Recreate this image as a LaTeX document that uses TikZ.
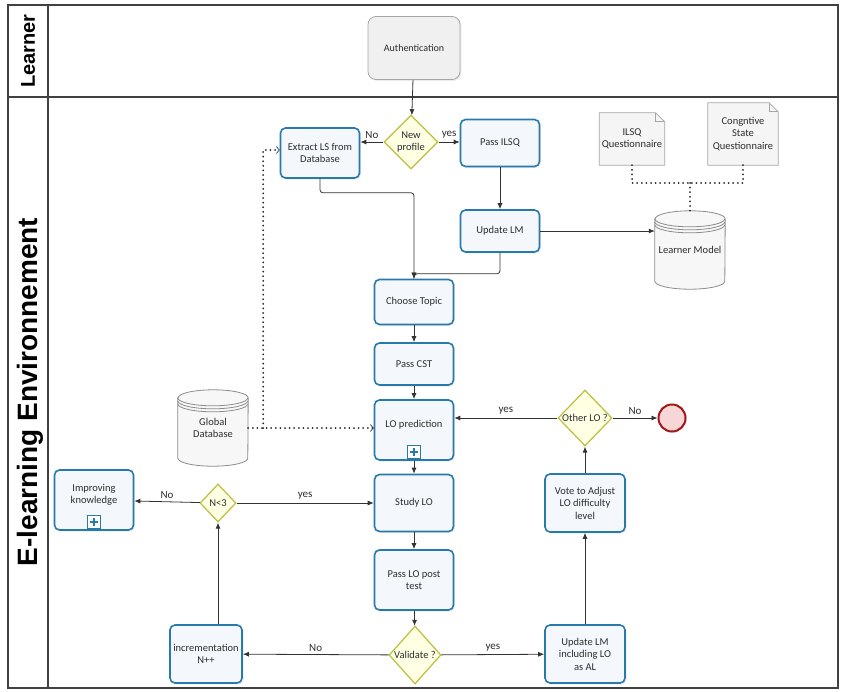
\documentclass[tikz,border=0pt]{standalone}
\usepackage{fontspec}
\setmainfont{Carlito}
\newfontfamily\lanefont{Liberation Sans}
\usetikzlibrary{shapes.geometric, arrows.meta, positioning, backgrounds, shadows}

\definecolor{taskblue}{RGB}{40,122,172}
\definecolor{taskfill}{RGB}{244,248,252}
\definecolor{gateline}{RGB}{190,190,60}
\definecolor{gatefill}{RGB}{255,255,228}
\definecolor{endline}{RGB}{160,24,24}
\definecolor{endfill}{RGB}{246,214,214}
\definecolor{txt}{RGB}{45,45,45}
\definecolor{storegray}{RGB}{140,140,140}

\begin{document}
\begin{tikzpicture}[x=1pt, y=1pt,
    task/.style     = {draw=taskblue, fill=taskfill, line width=1.6pt, rounded corners=5pt, minimum width=79pt, align=center, font=\fontsize{10.5}{12.5}\selectfont, text=txt, drop shadow={shadow xshift=1.5pt, shadow yshift=-1.5pt, opacity=0.15}},
    gate/.style     = {diamond, draw=gateline, fill=gatefill, line width=1.2pt, inner sep=0pt, align=center, font=\fontsize{10.5}{11.5}\selectfont, text=txt},
    store/.style    = {minimum width=70pt, inner sep=1pt, align=center, font=\fontsize{10.5}{12.5}\selectfont, text=txt},
    storeline/.style= {draw=storegray, fill=gray!6, line width=0.8pt},
    doc/.style      = {inner sep=1pt, align=center, font=\fontsize{10.5}{12.5}\selectfont, text=txt},
    docline/.style  = {draw=gray!70, fill=gray!8, line width=0.8pt},
    endev/.style    = {circle, draw=endline, fill=endfill, line width=2pt, minimum size=27pt},
    plusmark/.style = {draw=taskblue, fill=white, line width=1.2pt, minimum size=13pt, inner sep=0pt,
                       path picture={\draw[taskblue, line width=2pt] ([xshift=-4pt]path picture bounding box.center) -- ([xshift=4pt]path picture bounding box.center) ([yshift=-4pt]path picture bounding box.center) -- ([yshift=4pt]path picture bounding box.center);}},
    lbl/.style      = {font=\fontsize{11}{12}\selectfont, text=txt, inner sep=3pt},
    lanelbl/.style  = {font=\lanefont\bfseries, rotate=90},
    frame/.style    = {draw=black!75, line width=1.2pt},
    arr/.style      = {-{Latex[length=6pt, width=5pt]}, line width=0.8pt, draw=black!80, rounded corners=3pt},
    dots/.style     = {line width=2pt, dash pattern=on 0pt off 4.6pt, line cap=round, -{Straight Barb[length=3pt, width=7pt, line width=0.6pt]}, draw=black!85},
    >=Latex
]
\useasboundingbox (0,0) rectangle (850,-691);

% ---- Pool and lanes ----
\draw[frame] (8,-5) rectangle (838,-688);
\draw[frame] (48,-5) -- (48,-688);
\draw[frame] (8,-97) -- (838,-97);
\node[lanelbl, font=\lanefont\bfseries\fontsize{20}{22}\selectfont] (lnlearner) at (28,-51) {Learner};
\node[lanelbl, font=\lanefont\bfseries\fontsize{28}{32}\selectfont] (lnenv) at (30,-392) {E-learning Environnement};

% ---- Learner lane ----
\node[draw=gray!70, fill=gray!12, line width=0.8pt, rounded corners=8pt, minimum width=92pt, minimum height=63pt, font=\fontsize{10}{12}\selectfont, text=txt, drop shadow={shadow xshift=1.5pt, shadow yshift=-1.5pt, opacity=0.15}] (auth) at (414,-48) {Authentication};

% ---- Profile part ----
\node[gate, minimum width=54pt, minimum height=54pt] (newp) at (411,-142) {New\\profile};
\node[task, minimum height=50pt] (extract) at (320,-153) {Extract LS from\\Database};
\node[task, minimum height=47pt] (pilsq)   at (500,-143) {Pass ILSQ};
\node[task, minimum height=42pt] (uplm)    at (500,-231) {Update LM};
\node[store, minimum height=78pt] (lmodel) at (690,-250) {Learner Model};
\node[doc, minimum width=65pt, minimum height=52pt] (ilsq) at (632,-139) {ILSQ\\Questionnaire};
\node[doc, minimum width=70pt, minimum height=62pt] (cstq) at (743,-134) {Congntive\\State\\Questionnaire};
\coordinate (docjoin) at (690,-183);

% ---- Main column ----
\node[task, minimum height=45pt] (topic)  at (414,-302) {Choose Topic};
\node[task, minimum height=42pt] (pcst)   at (414,-364) {Pass CST};
\node[task, minimum height=60pt] (lopred) at (414,-430) {LO prediction\\\mbox{}};
\node[task, minimum height=57pt] (study)  at (414,-503) {Study LO};
\node[task, minimum height=60pt] (ptest)  at (414,-580) {Pass LO post\\test};
\node[gate, minimum width=52pt, minimum height=58pt] (valid) at (415,-655) {Validate ?};
\node[store, minimum height=76pt] (gdb) at (213,-428) {Global\\Database};
\coordinate (dbturn) at ([xshift=15pt]gdb.east);

% ---- Left loop ----
\node[task, minimum width=58pt, minimum height=58pt] (incr) at (206,-654) {incrementation\\N++};
\node[gate, minimum width=36pt, minimum height=38pt] (ncheck) at (218,-503) {N<3};
\node[task, minimum height=60pt] (impr) at (94,-500) {Improving\\knowledge\\\mbox{}};

% ---- Right loop ----
\node[task, minimum width=80pt, minimum height=58pt] (uplmal) at (585,-654) {Update LM\\including LO\\as AL};
\node[task, minimum width=80pt, minimum height=58pt] (vote)   at (585,-503) {Vote to Adjust\\LO difficulty\\level};
\node[gate, minimum width=54pt, minimum height=56pt] (other) at (585,-418) {Other LO ?};
\node[endev, drop shadow={shadow xshift=1.5pt, shadow yshift=-1.5pt, opacity=0.15}] (fin) at (672,-418) {};

% ---- Sub-process markers ----
\node[plusmark, anchor=south] (lopplus) at ([yshift=2pt]lopred.south) {};
\node[plusmark, anchor=south] (impplus) at ([yshift=2pt]impr.south) {};

% ---- Data stores and documents ----
\begin{scope}[on background layer]
\foreach \n in {lmodel,gdb} {
  \draw[storeline] ([yshift=-8pt]\n.north west) -- ([yshift=8pt]\n.south west)
      arc[start angle=180, end angle=360, x radius=35pt, y radius=8pt]
      -- ([yshift=-8pt]\n.north east)
      arc[start angle=0, end angle=180, x radius=35pt, y radius=8pt] -- cycle;
  \foreach \k in {8,11,14}
    \draw[storeline, fill=none] ([yshift=-\k pt]\n.north west) arc[start angle=180, end angle=360, x radius=35pt, y radius=8pt];
}
\foreach \n in {ilsq,cstq} {
  \draw[docline] (\n.south west) -- (\n.north west) -- ([xshift=-9pt]\n.north east) -- ([yshift=-9pt]\n.north east) -- (\n.south east) -- cycle;
  \draw[docline, fill=none] ([xshift=-9pt]\n.north east) |- ([yshift=-9pt]\n.north east);
}
\end{scope}

% ---- Flow ----
\draw[arr] (auth) -- (newp);
\draw[arr] (newp.west) -- node[lbl, above] {No} (newp.west -| extract.east);
\draw[arr] (newp.east) -- node[lbl, above] {yes} (newp.east -| pilsq.west);
\draw[arr] (pilsq) -- (uplm);
\draw[arr] (uplm) -- (uplm -| lmodel.west);
\draw[arr] (extract.south) -- ++(0,-14) -| (topic.north);
\draw[arr] (uplm.south) -- ++(0,-21) -| (topic.north);
\draw[arr] (topic) -- (pcst);
\draw[arr] (pcst) -- (lopred);
\draw[arr] (lopred) -- (study);
\draw[arr] (study) -- (ptest);
\draw[arr] (ptest) -- (valid);
\draw[arr] (valid) -- node[lbl, above] {No} (incr);
\draw[arr] (valid) -- node[lbl, above] {yes} (uplmal);
\draw[arr] (incr.north -| ncheck) -- (ncheck);
\draw[arr] (ncheck) -- node[lbl, above] {No} (impr);
\draw[arr] (ncheck) -- node[lbl, above] {yes} (study);
\draw[arr] (uplmal) -- (vote);
\draw[arr] (vote) -- (other);
\draw[arr] (other) -- node[lbl, above] {yes} (other -| lopred.east);
\draw[arr] (other) -- node[lbl, above] {No} (fin);

% ---- Data associations ----
\draw[dots] (gdb.east) -- (gdb.east -| lopred.west);
\draw[dots] (dbturn) |- ([yshift=3pt]extract.west);
\draw[dots, -] (ilsq.south) |- (docjoin);
\draw[dots, -] (cstq.south) |- (docjoin);
\draw[dots, -] (docjoin) -- (lmodel.north);

\end{tikzpicture}
\end{document}
